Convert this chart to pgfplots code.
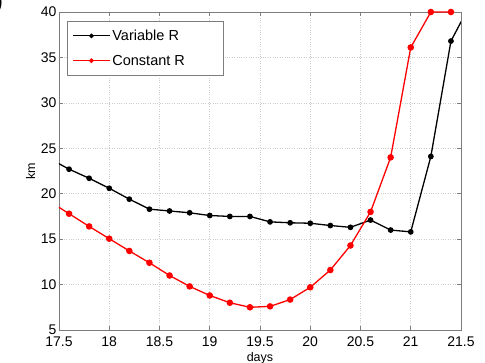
\documentclass[border=0pt]{standalone}
\usepackage{pgfplots}
\pgfplotsset{compat=1.18}
\usepackage{fontspec}
\setmainfont{Liberation Sans}
\definecolor{axgray}{RGB}{125,125,125}
\begin{document}
\begin{tikzpicture}
\useasboundingbox (-59pt,-32pt) rectangle (426pt,330pt);
\begin{axis}[name=ax, at={(0,0)}, anchor=south west, scale only axis, width=402pt, height=318pt,
  xmin=17.5, xmax=21.5, ymin=5, ymax=40,
  xtick={17.5,18,18.5,19,19.5,20,20.5,21,21.5},
  ytick={5,10,15,20,25,30,35,40},
  tick align=inside, major tick length=4pt,
  axis line style={axgray, line width=0.8pt}, tick style={axgray, line width=0.5pt},
  grid=major, grid style={dotted, gray!40, line width=0.6pt},
  /pgf/number format/assume math mode=true,
  ticklabel style={font=\fontsize{14}{16}\selectfont},
  xticklabel style={yshift=-3pt},
  yticklabel style={xshift=1pt},
  xlabel={days}, ylabel={km},
  label style={font=\fontsize{12.5}{13}\selectfont},
  xlabel style={yshift=1pt},
  ylabel style={yshift=-1pt},
  legend style={at={(0.0204,0.973)}, anchor=north west, draw=axgray, fill=white,
    font=\fontsize{14.5}{16}\selectfont, row sep=9pt, inner xsep=5pt, inner ysep=7pt,
    line width=0.6pt},
  legend cell align=left,
  legend image code/.code={\draw[mark repeat=2,mark phase=2,#1,line width=0.9pt,mark size=1.9pt] plot coordinates {(0pt,0pt) (18.5pt,0pt) (37pt,0pt)};},
]
\addplot[black, line width=1.3pt, mark=*, mark size=2.2pt] coordinates {
(17.4,23.9) (17.6,22.7) (17.8,21.7) (18.0,20.6) (18.2,19.4) (18.4,18.3) (18.6,18.1)
(18.8,17.9) (19.0,17.6) (19.2,17.5) (19.4,17.5) (19.6,16.9) (19.8,16.8) (20.0,16.75)
(20.2,16.5) (20.4,16.3) (20.6,17.1) (20.8,16.0) (21.0,15.8) (21.2,24.1) (21.4,36.8) (21.6,41.0)};
\addlegendentry{Variable R\hspace*{37pt}}
\addplot[red, line width=1.3pt, mark=*, mark size=2.6pt] coordinates {
(17.4,19.2) (17.6,17.8) (17.8,16.4) (18.0,15.05) (18.2,13.7) (18.4,12.4) (18.6,11.0)
(18.8,9.8) (19.0,8.8) (19.2,8.0) (19.4,7.5) (19.6,7.6) (19.8,8.35) (20.0,9.7)
(20.2,11.6) (20.4,14.3) (20.6,18.0) (20.8,24.0) (21.0,36.1) (21.2,40) (21.4,40)};
\addlegendentry{Constant R}
\end{axis}
\node[anchor=north east, inner sep=0pt, font=\bfseries\fontsize{22}{22}\selectfont] at (-56pt,338pt) {b)};
\end{tikzpicture}
\end{document}
